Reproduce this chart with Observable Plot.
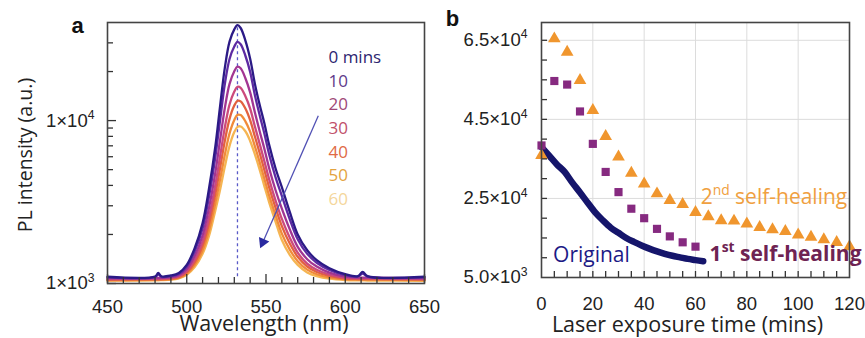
<!DOCTYPE html>
<html><head><meta charset="utf-8">
<script src="https://cdn.jsdelivr.net/npm/d3@7"></script>
<script src="https://cdn.jsdelivr.net/npm/@observablehq/plot@0.6"></script>
<style>
body{margin:0;background:#fff;}
#wrap{display:flex;width:865px;height:338px;overflow:hidden;}
svg{overflow:visible;}
</style></head><body><div id="wrap"></div>
<script>
// ---------- Panel a data: PL spectra (log intensity) ----------
const wavelengths = [450, 480, 482, 484, 490, 495, 500, 505, 510, 514, 518, 521, 524, 527, 530, 532, 534, 537, 540, 543, 546, 549, 552, 556, 560, 565, 570, 576, 582, 590, 600, 608, 611, 614, 650];
const pl0  = [1100, 1105, 1160, 1108, 1120, 1160, 1300, 1650, 2350, 3800, 6900, 12200, 21000, 30500, 36300, 38500, 37000, 31000, 24000, 16800, 12500, 9600, 7100, 5100, 3900, 2750, 2000, 1600, 1390, 1240, 1140, 1110, 1180, 1110, 1100];
const pl10 = [1089, 1094, 1140, 1097, 1108, 1144, 1271, 1578, 2188, 3404, 5957, 10000, 16700, 23900, 28500, 30400, 29400, 25000, 19900, 14300, 10800, 8300, 6200, 4500, 3450, 2480, 1870, 1520, 1340, 1211, 1125, 1104, 1150, 1103, 1089];
const pl20 = [1074, 1080, 1081, 1082, 1092, 1124, 1227, 1476, 1968, 2897, 4775, 7550, 11900, 16800, 20100, 21430, 20950, 18200, 14900, 11200, 8600, 6700, 5100, 3750, 2880, 2150, 1680, 1410, 1270, 1167, 1102, 1087, 1086, 1086, 1075];
const pl30 = [1064, 1069, 1070, 1071, 1080, 1107, 1194, 1400, 1807, 2541, 3999, 6000, 9050, 12550, 15080, 16140, 15900, 14100, 11850, 9200, 7200, 5620, 4360, 3240, 2490, 1910, 1545, 1325, 1214, 1132, 1084, 1076, 1075, 1075, 1065];
const pl40 = [1054, 1060, 1061, 1062, 1071, 1095, 1172, 1349, 1702, 2317, 3532, 5100, 7480, 10250, 12360, 13240, 13120, 11850, 10050, 7980, 6330, 4960, 3890, 2920, 2250, 1760, 1458, 1272, 1177, 1112, 1072, 1066, 1065, 1065, 1055];
const pl50 = [1047, 1052, 1053, 1054, 1062, 1084, 1148, 1300, 1600, 2109, 3112, 4330, 6150, 8350, 10090, 10840, 10810, 9900, 8560, 6950, 5560, 4380, 3460, 2625, 2025, 1615, 1370, 1216, 1140, 1089, 1059, 1056, 1055, 1055, 1048];
const pl60 = [1040, 1045, 1046, 1048, 1055, 1075, 1130, 1260, 1520, 1950, 2800, 3750, 5200, 7000, 8500, 9150, 9200, 8600, 7500, 6200, 5000, 3950, 3150, 2400, 1850, 1500, 1300, 1170, 1110, 1070, 1050, 1045, 1045, 1043, 1040];
const exposureLabels = ["0 mins", "10", "20", "30", "40", "50", "60"];
const peakWavelength = 532;
const arrowA = [{x1: 583, y1: 10700, x2: 548, y2: 1790}];
const wlMajorTicks = [450, 500, 550, 600, 650];
const wlMinorTicks = [460, 470, 480, 490, 510, 520, 530, 540, 560, 570, 580, 590, 610, 620, 630, 640];
const plMajorTicks = [1000, 10000];
const plMinorTicks = [2000, 3000, 4000, 5000, 6000, 7000, 8000, 9000, 20000, 30000];
const plTickLabels = ["1×10³", "1×10⁴"];

// ---------- Panel b data ----------
const originalTime = [0, 3, 6, 9, 12, 15, 18, 21, 24, 27, 30, 33, 36, 39, 42, 45, 48, 51, 54, 57, 60, 63];
const originalIntensity = [38000, 35800, 33600, 31700, 29000, 26500, 23900, 21400, 19400, 17600, 16300, 15000, 14000, 13100, 12300, 11600, 11000, 10500, 10100, 9700, 9400, 9100];
const firstTime = [0, 5, 10, 15, 20, 25, 30, 35, 40, 45, 50, 55, 60];
const firstIntensity = [38400, 54700, 53800, 47000, 38800, 31700, 26600, 22400, 20000, 17300, 15400, 13900, 12800];
const secondTime = [0, 5, 10, 15, 20, 25, 30, 35, 40, 45, 50, 55, 60, 65, 70, 75, 80, 85, 90, 95, 100, 105, 110, 115, 120];
const secondIntensity = [35900, 65400, 62000, 54900, 47300, 40700, 35500, 31400, 28700, 26200, 24500, 23500, 21500, 20400, 19400, 19300, 18600, 17700, 17100, 16700, 15800, 15200, 14600, 13900, 12800];
const timeMajorTicks = [0, 20, 40, 60, 80, 100, 120];
const timeMinorTicks = [5, 10, 15, 20, 25, 30, 35, 40, 45, 50, 55, 60, 65, 70, 75, 80, 85, 90, 95, 100, 105, 110, 115];
const intensityMajorTicks = [5000, 25000, 45000, 65000];
const intensityTickLabels = ["5.0×10³", "2.5×10⁴", "4.5×10⁴", "6.5×10⁴"];
const intensityMinorTicks = [10000, 15000, 20000, 25000, 30000, 35000, 40000, 45000, 50000, 55000, 60000, 65000];
const seriesLabels = [
  {text: "Original", x: 4.5, y: 10600},
  {text: "2nd self-healing", x: 62, y: 25300},
  {text: "1st self-healing", x: 65.5, y: 11000}
];

// ---------- styles ----------
const lineColors = ["#2b1a86", "#5d2aa2", "#a23592", "#cc4a7c", "#e2613f", "#f08b3a", "#f5b552"];
const legendColors = ["#2d2570", "#5e3a8a", "#a04877", "#c0506a", "#e06a45", "#e3a33f", "#f4d69b"];
const titleFont = "'Open Sans', sans-serif";
const tickFont = "'Liberation Sans', Arial, sans-serif";
const tickStyle = {stroke: "#333", strokeWidth: 1.3};

const series = [pl0, pl10, pl20, pl30, pl40, pl50, pl60];
const spectra = series.flatMap((arr, i) => wavelengths.map((w, j) => ({w, v: arr[j], s: exposureLabels[i]}))).reverse();

const frameAH = 338 - 22 - 55, frameAW = 440 - 107 - 16;
const plotA = Plot.plot({
  width: 440, height: 338,
  marginLeft: 107, marginRight: 16, marginTop: 22, marginBottom: 55,
  style: {fontFamily: tickFont, color: "#222", background: "white"},
  x: {domain: [450, 650]},
  y: {type: "log", domain: [1000, 40000]},
  color: {domain: exposureLabels, range: lineColors},
  marks: [
    Plot.axisX({ticks: wlMajorTicks, tickSize: 0, tickPadding: 16, fontSize: 18.5, fontFamily: tickFont, label: null}),
    Plot.axisY({ticks: plMajorTicks, tickFormat: d => plTickLabels[plMajorTicks.indexOf(d)], tickSize: 0, tickPadding: 13, fontSize: 18.5, fontFamily: tickFont, label: null}),
    Plot.ruleX([peakWavelength], {y1: pl0[0], y2: d3.max(pl0), stroke: "#5a5ac8", strokeWidth: 1.3, strokeDasharray: "3,3"}),
    Plot.line(spectra, {x: "w", y: "v", z: "s", stroke: "s", curve: "catmull-rom", strokeWidth: 2.3}),
    Plot.link(arrowA, {x1: "x1", y1: "y1", x2: "x2", y2: "y2", stroke: "#5050b4", strokeWidth: 1.3}),
    Plot.dot(arrowA, {x: "x2", y: "y2", symbol: "triangle", r: 4.2, rotate: 204, fill: "#2a2aa0", stroke: "none"}),
    ...exposureLabels.map((t, i) => Plot.text([t], {text: d => d, frameAnchor: "top-left", dx: 221, dy: 35 + i * 23.7, textAnchor: "start", lineAnchor: "middle", fill: legendColors[i], fontSize: 17, fontFamily: titleFont})),
    Plot.ruleX(wlMinorTicks, {insetTop: frameAH - 6, ...tickStyle}),
    Plot.ruleX(wlMajorTicks, {insetTop: frameAH - 9, ...tickStyle}),
    Plot.ruleY(plMinorTicks, {insetRight: frameAW - 6, ...tickStyle}),
    Plot.ruleY(plMajorTicks, {insetRight: frameAW - 9, ...tickStyle}),
    Plot.frame({stroke: "#444", strokeWidth: 1.6}),
    Plot.text(["a"], {text: d => d, frameAnchor: "top-left", dx: -30, dy: 3, textAnchor: "middle", lineAnchor: "middle", fontSize: 22, fontWeight: "bold", fill: "#111", fontFamily: tickFont}),
    Plot.text(["PL intensity (a.u.)"], {text: d => d, frameAnchor: "left", dx: -82, dy: 2, rotate: -90, textAnchor: "middle", lineAnchor: "middle", fontSize: 19.5, fill: "#222", fontFamily: titleFont}),
    Plot.text(["Wavelength (nm)"], {text: d => d, frameAnchor: "bottom", dx: -2, dy: 41, textAnchor: "middle", lineAnchor: "middle", fontSize: 21.5, fill: "#222", fontFamily: titleFont})
  ]
});

const original = originalTime.map((t, i) => ({t, v: originalIntensity[i]}));
const first = firstTime.map((t, i) => ({t, v: firstIntensity[i]}));
const second = secondTime.map((t, i) => ({t, v: secondIntensity[i]}));

const frameBH = 338 - 22 - 61, frameBW = 425 - 101 - 16;
const plotB = Plot.plot({
  width: 425, height: 338,
  marginLeft: 101, marginRight: 16, marginTop: 22, marginBottom: 61,
  style: {fontFamily: tickFont, color: "#222", background: "white"},
  x: {domain: [0, 120]},
  y: {domain: [5000, 69500]},
  marks: [
    Plot.ruleX(timeMajorTicks.slice(1, -1), {stroke: "#dcdcdc", strokeWidth: 1}),
    Plot.ruleY(intensityMajorTicks.slice(1), {stroke: "#dcdcdc", strokeWidth: 1}),
    Plot.axisX({ticks: timeMajorTicks, tickSize: 0, tickPadding: 19, fontSize: 18.5, fontFamily: tickFont, label: null}),
    Plot.axisY({ticks: intensityMajorTicks, tickFormat: d => intensityTickLabels[intensityMajorTicks.indexOf(d)], tickSize: 0, tickPadding: 14, fontSize: 18.5, fontFamily: tickFont, label: null}),
    Plot.line(original, {x: "t", y: "v", stroke: "#15156b", strokeWidth: 6.5, strokeLinecap: "round", curve: "monotone-x"}),
    Plot.dot(second, {x: "t", y: "v", symbol: "triangle", r: 4.7, fill: "#f0962e", stroke: "none"}),
    Plot.dot(first, {x: "t", y: "v", symbol: "square", r: 4.6, fill: "#862a80", stroke: "none"}),
    Plot.text([seriesLabels[0]], {x: "x", y: "y", text: "text", textAnchor: "start", lineAnchor: "middle", fill: "#1c1a86", fontSize: 21, fontFamily: titleFont}),
    Plot.text([seriesLabels[1]], {x: "x", y: "y", text: "text", textAnchor: "start", lineAnchor: "middle", fill: "#f0a040", fontSize: 21, fontFamily: titleFont}),
    Plot.text([seriesLabels[2]], {x: "x", y: "y", text: "text", textAnchor: "start", lineAnchor: "middle", fill: "#6e2352", fontSize: 21, fontWeight: "bold", fontFamily: titleFont}),
    Plot.ruleX(timeMinorTicks, {insetTop: frameBH - 6, ...tickStyle}),
    Plot.ruleY(intensityMinorTicks, {insetRight: frameBW - 6, ...tickStyle}),
    Plot.frame({stroke: "#444", strokeWidth: 1.6}),
    Plot.text(["b"], {text: d => d, frameAnchor: "top-left", dx: -89, dy: -4, textAnchor: "middle", lineAnchor: "middle", fontSize: 22, fontWeight: "bold", fill: "#111", fontFamily: tickFont}),
    Plot.text(["Laser exposure time (mins)"], {text: d => d, frameAnchor: "bottom", dx: -8, dy: 48, textAnchor: "middle", lineAnchor: "middle", fontSize: 21.5, fill: "#222", fontFamily: titleFont})
  ]
});

// superscripts for ordinal suffixes and powers of ten
function superscript(svg, full, parts, fs) {
  d3.select(svg).selectAll("text").filter(function() { return this.textContent === full; }).each(function() {
    const t = d3.select(this);
    t.text(null);
    let shifted = false;
    for (const [s, sup] of parts) {
      const ts = t.append("tspan").text(s);
      if (sup && !shifted) { ts.attr("dy", -0.42 * fs).attr("font-size", fs * 0.66); shifted = true; }
      else if (!sup && shifted) { ts.attr("dy", 0.42 * fs); shifted = false; }
    }
  });
}
superscript(plotB, "2nd self-healing", [["2", false], ["nd", true], [" self-healing", false]], 21);
superscript(plotB, "1st self-healing", [["1", false], ["st", true], [" self-healing", false]], 21);
const supDigits = {"³": "3", "⁴": "4"};
for (const [svg, labels] of [[plotA, plTickLabels], [plotB, intensityTickLabels]]) {
  for (const lab of labels) {
    superscript(svg, lab, [[lab.slice(0, -1), false], [supDigits[lab.slice(-1)], true]], 18.5);
  }
}

document.getElementById("wrap").append(plotA, plotB);
</script></body></html>
